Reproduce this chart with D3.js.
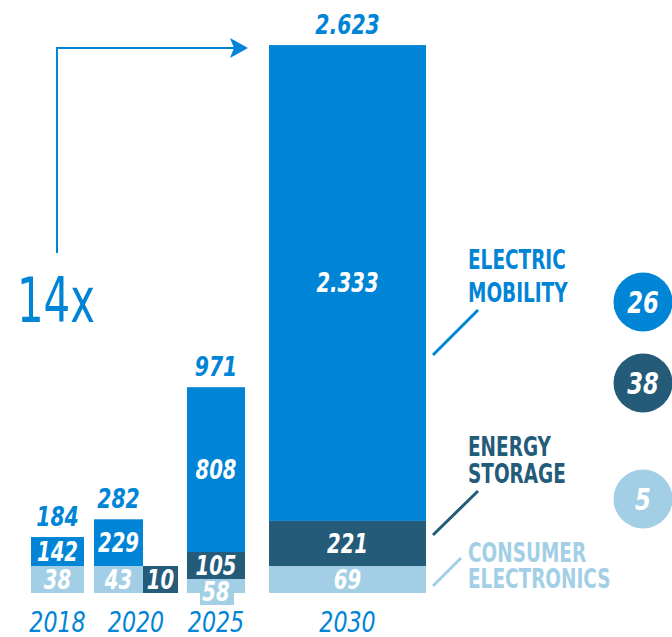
<!DOCTYPE html>
<html>
<head>
<meta charset="utf-8">
<script src="https://cdn.jsdelivr.net/npm/d3@7"></script>
<style>
  body { margin: 0; background: #fff; }
  svg { display: block; }
  text { font-family: "DejaVu Sans Condensed", "DejaVu Sans", sans-serif; }
</style>
</head>
<body>
<div id="chart"></div>
<script>
// data (units as in the picture)
var years = ["2018", "2020", "2025", "2030"];
var consumer = [38, 43, 58, 69];
var storage = [null, 10, 105, 221];
var mobility = [142, 229, 808, 2333];
var totals = [184, 282, 971, 2623];
var growth = [26, 38, 5];
var seriesNames = [["ELECTRIC", "MOBILITY"], ["ENERGY", "STORAGE"], ["CONSUMER", "ELECTRONICS"]];
var multiple = "14x";

var blue = "#0084d6", dark = "#235b79", light = "#a3cfe6";
var colors = [blue, dark, light];

var svg = d3.select("#chart").append("svg")
  .attr("width", 672)
  .attr("height", 637);

var base = 593;
var minSeg = 27;
var h = d3.scaleLinear().domain([0, 2623]).range([0, 535]);
var x = d3.scaleOrdinal().domain(years).range([31, 94, 187, 269]);
var w = d3.scaleOrdinal().domain(years).range([53, 49, 58, 157]);
var sideW = 35;
var thinConsumer = ["2025"]; // drawn thin with the label on a tab hanging below

var fmt = d3.formatLocale({decimal: ",", thousands: ".", grouping: [3], currency: ["", "€"]}).format(",d");

// no condensed DIN here, so squeeze the text horizontally
function addText(g, tx, ty, str, o) {
  return g.append("text")
    .attr("transform", "translate(" + tx + "," + ty + ") scale(" + (o.sx || 0.84) + ",1)")
    .attr("dy", o.dy || null)
    .attr("text-anchor", o.anchor || "middle")
    .attr("fill", o.fill || "#fff")
    .attr("font-size", o.size || 26)
    .attr("font-weight", o.weight || "bold")
    .attr("font-style", o.style || "italic")
    .text(str);
}

function valueText(g, cx, cy, v, size) {
  addText(g, cx, cy, fmt(v), {dy: "0.36em", size: size});
}

var barsG = svg.append("g");

years.forEach(function(yr, i) {
  var x0 = x(yr), bw = w(yr);
  var top = base;
  var extra = 0;

  // consumer electronics
  var thin = thinConsumer.indexOf(yr) >= 0;
  var hc = thin ? Math.max(14, h(consumer[i])) : Math.max(minSeg, h(consumer[i]));
  top -= hc;
  barsG.append("rect")
    .attr("x", x0).attr("y", top).attr("width", bw).attr("height", hc)
    .attr("fill", light);
  if (thin) {
    barsG.append("rect")
      .attr("x", x0 + 13).attr("y", top).attr("width", bw - 24).attr("height", 26)
      .attr("fill", light);
    valueText(barsG, x0 + bw / 2, top + 13, consumer[i]);
  } else {
    valueText(barsG, x0 + bw / 2, top + hc / 2, consumer[i]);
  }

  // energy storage: tiny values sit beside the bar
  if (storage[i] != null) {
    if (storage[i] < 20) {
      barsG.append("rect")
        .attr("x", x0 + bw).attr("y", top).attr("width", sideW).attr("height", hc)
        .attr("fill", dark);
      valueText(barsG, x0 + bw + sideW / 2, top + hc / 2, storage[i]);
      extra = sideW;
    } else {
      var hs = Math.max(minSeg, h(storage[i]));
      top -= hs;
      barsG.append("rect")
        .attr("x", x0).attr("y", top).attr("width", bw).attr("height", hs)
        .attr("fill", dark);
      valueText(barsG, x0 + bw / 2, top + hs / 2, storage[i]);
    }
  }

  // electric mobility
  var hm = Math.max(minSeg, h(mobility[i]));
  top -= hm;
  barsG.append("rect")
    .attr("x", x0).attr("y", top).attr("width", bw).attr("height", hm)
    .attr("fill", blue);
  valueText(barsG, x0 + bw / 2, top + hm / 2, mobility[i]);

  // total
  addText(barsG, x0 + bw / 2, top - 11, fmt(totals[i]), {fill: blue, size: 27});

  // year
  addText(barsG, x0 + (bw + extra) / 2, 632, yr, {fill: blue, size: 29, weight: "normal", sx: 0.85});
});

// growth arrow
svg.append("path")
  .attr("d", "M57,253V48H236")
  .attr("fill", "none")
  .attr("stroke", blue)
  .attr("stroke-width", 2);
svg.append("path")
  .attr("d", "M248,48L230,38L234,48L230,58Z")
  .attr("fill", blue);
addText(svg, 17, 322, multiple, {fill: blue, size: 62, weight: "normal", style: "normal", anchor: "start", sx: 0.75});

// series labels with leader lines
var lastX = x("2030") + w("2030");
var legendRows = [
  {lines: seriesNames[0], y: 269, gap: 33, from: [lastX + 7, 355], to: [478, 310]},
  {lines: seriesNames[1], y: 456, gap: 27, from: [lastX + 7, 535], to: [478, 491]},
  {lines: seriesNames[2], y: 562, gap: 26, from: [lastX + 7, 586], to: [461, 558]}
];
var legend = svg.append("g");
legendRows.forEach(function(r, i) {
  legend.append("line")
    .attr("x1", r.from[0]).attr("y1", r.from[1])
    .attr("x2", r.to[0]).attr("y2", r.to[1])
    .attr("stroke", colors[i])
    .attr("stroke-width", 3);
  r.lines.forEach(function(t, j) {
    addText(legend, 468, r.y + j * r.gap, t, {fill: colors[i], size: 26, style: "normal", anchor: "start", sx: 0.79});
  });
});

// growth circles
var circleY = [302, 383, 499];
growth.forEach(function(g, i) {
  svg.append("circle")
    .attr("cx", 643).attr("cy", circleY[i]).attr("r", 29.5)
    .attr("fill", colors[i]);
  valueText(svg, 643, circleY[i], g, 30);
});
</script>
</body>
</html>
